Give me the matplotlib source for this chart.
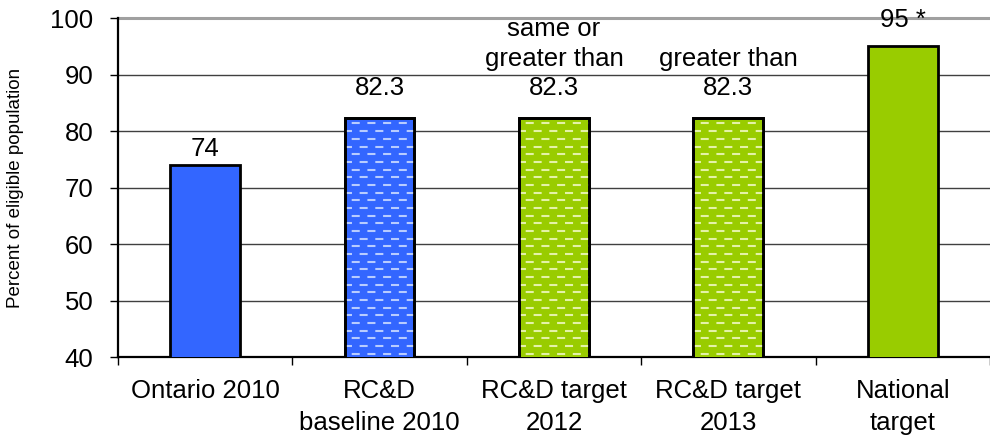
import numpy as np
import matplotlib.pyplot as plt

plt.rcParams['font.family'] = ['Liberation Sans', 'DejaVu Sans']
plt.rcParams['lines.scale_dashes'] = False

# -------------------------------
# Data
# -------------------------------
categories = ["Ontario 2010", "RC&D\nbaseline 2010", "RC&D target\n2012",
              "RC&D target\n2013", "National\ntarget"]
values = [74, 82.3, 82.3, 82.3, 95]
value_labels = ["74", "82.3", "same or\ngreater than\n82.3", "greater than\n82.3", "95 *"]
bar_colors = ["#3366ff", "#3366ff", "#99cc00", "#99cc00", "#99cc00"]
dashed = [False, True, True, True, False]
dash_colors = {"#3366ff": "#b8ccff", "#99cc00": "#e4f2a8"}

# gap between bar top and its label, in points
label_gap = [3, 13, 13, 13, 10.5]

# -------------------------------
# Figure
# -------------------------------
fig = plt.figure(figsize=(9.9, 4.41), dpi=100)
ax = fig.add_axes([0.119, 0.19, 0.881, 0.769])

x = np.arange(len(categories))
bars = ax.bar(x, values, width=0.4, color=bar_colors, edgecolor="black",
              linewidth=2, zorder=3)

ax.set_ylim(40, 100)
ax.set_xlim(-0.5, len(categories) - 0.5)
ax.set_yticks(np.arange(40, 101, 10))

# gridlines: dark thin ones, lighter thick one on top
for yv in range(50, 100, 10):
    ax.axhline(yv, color="#404040", lw=1, zorder=1)
ax.axhline(100, color="#a0a0a0", lw=2.2, zorder=1, clip_on=False)

# dashed fill pattern drawn as offset dashed rows clipped to each bar
fig.canvas.draw()
ax_h_px = ax.get_window_extent().height
row_step = 7.67 * 60 / ax_h_px
for bar, col, d in zip(bars, bar_colors, dashed):
    if not d:
        continue
    x0 = bar.get_x()
    x1 = x0 + bar.get_width()
    top = bar.get_height()
    ys = np.arange(top - row_step * 0.7, 40, -row_step)
    for i, yv in enumerate(ys):
        offset = 0 if i % 2 == 0 else 5.6
        ln, = ax.plot([x0 - 0.05, x1 + 0.05], [yv, yv], color=dash_colors[col],
                      lw=1.5, linestyle=(offset, (5.8, 5.5)), zorder=3.5,
                      solid_capstyle="butt", dash_capstyle="butt")
        ln.set_clip_path(bar)
    # redraw outline on top of the pattern
    ax.bar(bar.get_x() + bar.get_width() / 2, top, width=bar.get_width(),
           fill=False, edgecolor="black", linewidth=2, zorder=4)

# value labels
for xi, v, lab, gap in zip(x, values, value_labels, label_gap):
    ax.annotate(lab, (xi, v), xytext=(0, gap), textcoords="offset points",
                ha="center", va="bottom", fontsize=18.5, linespacing=1.28,
                zorder=5, annotation_clip=False)

# axes styling
for s in ["top", "right"]:
    ax.spines[s].set_visible(False)
ax.spines["left"].set_linewidth(1.6)
ax.spines["bottom"].set_linewidth(1.6)

ax.set_xticks(x)
ax.set_xticklabels(categories, fontsize=18.5, linespacing=1.38)
ax.tick_params(axis="x", length=0, pad=16)
ax.set_xticks(np.arange(-0.5, len(categories), 1), minor=True)
ax.tick_params(axis="x", which="minor", length=5.5, width=1, direction="out")
ax.tick_params(axis="y", length=5.5, width=1, labelsize=18.5, pad=12)
ax.yaxis.get_major_ticks()[-1].tick1line.set_color("#a0a0a0")

ax.set_ylabel("Percent of eligible population", fontsize=13.5)
ax.yaxis.set_label_coords(-0.107, 0.5)

fig.savefig("out.png", dpi=100)
